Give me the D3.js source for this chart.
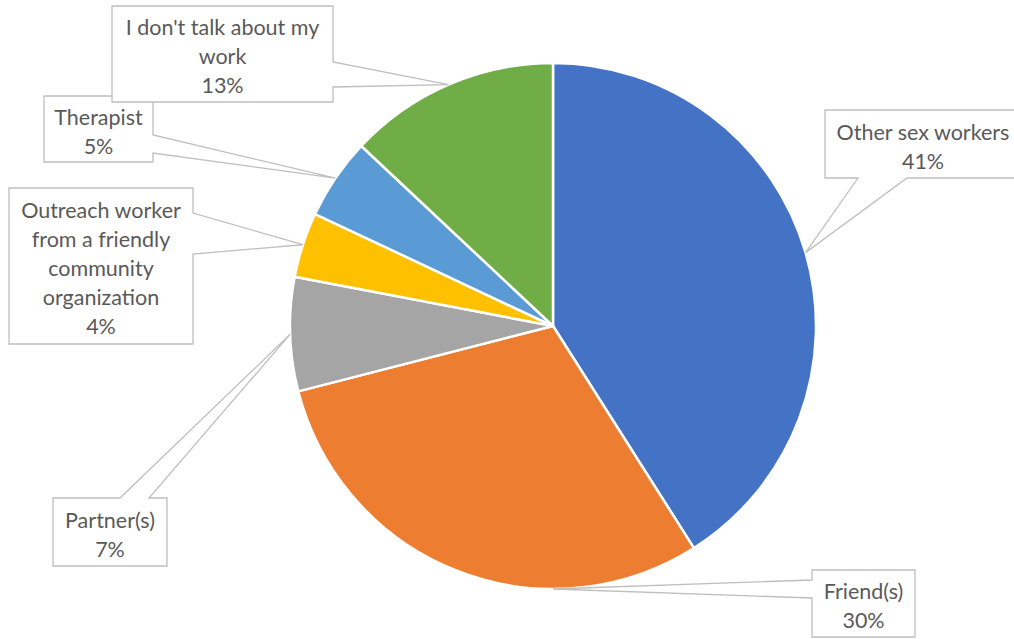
<!DOCTYPE html>
<html>
<head>
<meta charset="utf-8">
<script src="https://cdn.jsdelivr.net/npm/d3@7"></script>
<style>
  html, body { margin: 0; padding: 0; background: #ffffff; }
  svg { display: block; }
  text { font-family: Lato, "Open Sans", sans-serif; fill: #595959; }
</style>
</head>
<body>
<svg id="chart" width="1014" height="639"></svg>
<script>
// Who respondents talk to about their work (share of responses)
const categories = [
  "Other sex workers",
  "Friend(s)",
  "Partner(s)",
  "Outreach worker from a friendly community organization",
  "Therapist",
  "I don't talk about my work"
];
const shares = [41, 30, 7, 4, 5, 13];
const colors = ["#4472C4", "#ED7D31", "#A5A5A5", "#FFC000", "#5B9BD5", "#70AD47"];

// Wrapped text lines of each callout label (name part)
const labelLines = [
  ["Other sex workers"],
  ["Friend(s)"],
  ["Partner(s)"],
  ["Outreach worker", "from a friendly", "community", "organization"],
  ["Therapist"],
  ["I don't talk about my", "work"]
];

// Callout box geometry: box rect, side carrying the pointer, and the pointer base span
const callouts = [
  { x: 825, y: 110, w: 196, h: 68, side: "bottom", a: 907, b: 858 },
  { x: 812, y: 570, w: 103, h: 67, side: "left", a: 598, b: 580, tipAngle: 180 },
  { x: 53, y: 498, w: 114, h: 68, side: "top", a: 120, b: 149 },
  { x: 9, y: 188, w: 184, h: 156, side: "right", a: 213, b: 254 },
  { x: 44, y: 96, w: 109, h: 66, side: "right", a: 135, b: 153 },
  { x: 112, y: 6, w: 221, h: 96, side: "right", a: 62, b: 87 }
];

const cx = 553, cy = 326, radius = 263;
const lineHeight = 29;

const svg = d3.select("#chart");

const pie = d3.pie().sort(null).value(d => d.value);
const arcs = pie(categories.map((c, i) => ({ name: c, value: shares[i], color: colors[i] })));
const arc = d3.arc().innerRadius(0).outerRadius(radius);

const g = svg.append("g").attr("transform", `translate(${cx},${cy})`);
g.selectAll("path.slice")
  .data(arcs)
  .join("path")
  .attr("class", "slice")
  .attr("d", arc)
  .attr("fill", d => d.data.color)
  .attr("stroke", "#ffffff")
  .attr("stroke-width", 2.5)
  .attr("stroke-linejoin", "round");

// Builds a box outline with a wedge pointing at (tx, ty), traced clockwise
function calloutPath(c, tx, ty) {
  const x0 = c.x, y0 = c.y, x1 = c.x + c.w, y1 = c.y + c.h;
  const p = d3.path();
  p.moveTo(x0, y0);
  if (c.side === "top") { p.lineTo(c.a, y0); p.lineTo(tx, ty); p.lineTo(c.b, y0); }
  p.lineTo(x1, y0);
  if (c.side === "right") { p.lineTo(x1, c.a); p.lineTo(tx, ty); p.lineTo(x1, c.b); }
  p.lineTo(x1, y1);
  if (c.side === "bottom") { p.lineTo(c.a, y1); p.lineTo(tx, ty); p.lineTo(c.b, y1); }
  p.lineTo(x0, y1);
  if (c.side === "left") { p.lineTo(x0, c.a); p.lineTo(tx, ty); p.lineTo(x0, c.b); }
  p.closePath();
  return p.toString();
}

const labels = svg.append("g");
arcs.forEach((d, i) => {
  const c = callouts[i];
  const angDeg = c.tipAngle !== undefined ? c.tipAngle : ((d.startAngle + d.endAngle) / 2) * 180 / Math.PI;
  const ang = angDeg * Math.PI / 180;
  const tx = cx + radius * Math.sin(ang);
  const ty = cy - radius * Math.cos(ang);

  labels.append("path")
    .attr("d", calloutPath(c, tx, ty))
    .attr("fill", "#ffffff")
    .attr("stroke", "#BFBFBF")
    .attr("stroke-width", 1.3)
    .attr("stroke-linejoin", "miter");

  const lines = labelLines[i].concat([d3.format(".0f")(d.data.value) + "%"]);
  const mx = c.x + c.w / 2, my = c.y + c.h / 2;
  const t = labels.append("text")
    .attr("text-anchor", "middle")
    .attr("font-size", 21.5);
  lines.forEach((ln, k) => {
    t.append("tspan")
      .attr("x", mx)
      .attr("y", my + (k - (lines.length - 1) / 2) * lineHeight + 2)
      .attr("dominant-baseline", "central")
      .text(ln);
  });
});
</script>
</body>
</html>
